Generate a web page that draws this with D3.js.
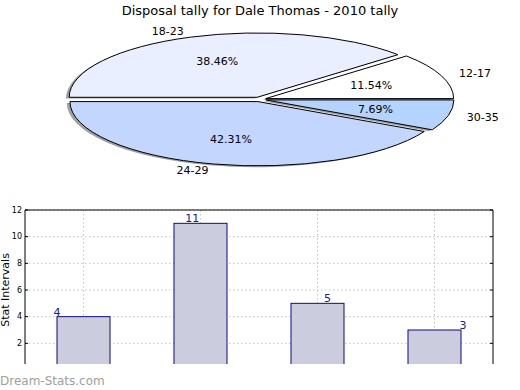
<!DOCTYPE html>
<meta charset="utf-8">
<style>
  body { margin: 0; background: #fff; }
  text { font-family: "DejaVu Sans", sans-serif; }
</style>
<svg width="520" height="390"></svg>
<script src="https://cdn.jsdelivr.net/npm/d3@7"></script>
<script>
// pie data
var pieLabels = ["12-17", "18-23", "24-29", "30-35"];
var pieValues = [3, 10, 11, 2];
var pieColors = ["#ffffff", "#e9effe", "#c3d6fe", "#b4d3fe"];

// bar data
var barCats = ["a", "b", "c", "d"];
var barValues = [4, 11, 5, 3];
var yTicks = [2, 4, 6, 8, 10, 12];

var svg = d3.select("svg");

svg.append("text")
    .attr("x", 260).attr("y", 15)
    .attr("text-anchor", "middle")
    .style("font-size", "13px")
    .text("Disposal tally for Dale Thomas - 2010 tally");

// ---- pie (squashed ellipse, counter-clockwise from east like matplotlib)
var cx = 259.5, cy = 99.4, rx = 188, ry = 64.3, explode = 0.035;
var total = d3.sum(pieValues);
var pie = d3.pie().sort(null).value(function(d) { return d; })
    .startAngle(Math.PI / 2).endAngle(Math.PI / 2 - 2 * Math.PI);
var arcs = pie(pieValues);
var arc = d3.arc().innerRadius(0).outerRadius(1);

// d3 angles: 0 = up, clockwise. convert to math angle
function mathAngle(a) { return Math.PI / 2 - a; }

var pg = svg.append("g");
function wedgeTransform(d, sx, sy) {
  var m = mathAngle((d.startAngle + d.endAngle) / 2);
  var ox = cx + explode * rx * Math.cos(m) + sx;
  var oy = cy - explode * ry * Math.sin(m) + sy;
  return "translate(" + ox + "," + oy + ") scale(" + rx + "," + ry + ")";
}
function swapArc(d) {
  return arc({startAngle: Math.min(d.startAngle, d.endAngle), endAngle: Math.max(d.startAngle, d.endAngle)});
}

pg.selectAll(".shadow").data(arcs).enter().append("path")
    .attr("class", "shadow")
    .attr("d", swapArc)
    .attr("transform", function(d) { return wedgeTransform(d, -3.2, 1.3); })
    .attr("fill", "#777").attr("opacity", 0.7);

pg.selectAll(".wedge").data(arcs).enter().append("path")
    .attr("class", "wedge")
    .attr("d", swapArc)
    .attr("transform", function(d) { return wedgeTransform(d, 0, 0); })
    .attr("fill", function(d, i) { return pieColors[i]; })
    .attr("stroke", "#000").attr("stroke-width", 1)
    .attr("vector-effect", "non-scaling-stroke");

arcs.forEach(function(d, i) {
  var m = mathAngle((d.startAngle + d.endAngle) / 2);
  var ex = cx + explode * rx * Math.cos(m), ey = cy - explode * ry * Math.sin(m);
  svg.append("text")
      .attr("x", ex + 1.1 * rx * Math.cos(m))
      .attr("y", ey - 1.1 * ry * Math.sin(m))
      .attr("dy", "0.35em")
      .attr("text-anchor", Math.cos(m) > 0 ? "start" : "end")
      .style("font-size", "11px")
      .text(pieLabels[i]);
  svg.append("text")
      .attr("x", ex + 0.6 * rx * Math.cos(m))
      .attr("y", ey - 0.6 * ry * Math.sin(m))
      .attr("dy", "0.35em")
      .attr("text-anchor", "middle")
      .style("font-size", "11px")
      .text((100 * pieValues[i] / total).toFixed(2) + "%");
});

// ---- bar chart
var plotLeft = 25, plotRight = 493, plotTop = 210, plotBottom = 370, clipBottom = 364;
var x = d3.scaleBand().domain(barCats).range([plotLeft, plotRight]).padding(0);
var y = d3.scaleLinear().domain([0, 12]).range([plotBottom, plotTop]);
var barW = x.bandwidth() * 0.453;

svg.append("clipPath").attr("id", "clip")
  .append("rect").attr("x", 0).attr("y", 0).attr("width", 520).attr("height", clipBottom);

var bg = svg.append("g").attr("clip-path", "url(#clip)");

// grid
bg.selectAll(".hg").data(yTicks).enter().append("line")
    .attr("x1", plotLeft).attr("x2", plotRight)
    .attr("y1", function(d) { return y(d); }).attr("y2", function(d) { return y(d); })
    .attr("stroke", "#c4c4c4").attr("stroke-dasharray", "1.5,2.5");
bg.selectAll(".vg").data(barCats).enter().append("line")
    .attr("x1", function(d) { return x(d) + x.bandwidth() / 2; })
    .attr("x2", function(d) { return x(d) + x.bandwidth() / 2; })
    .attr("y1", plotTop).attr("y2", plotBottom)
    .attr("stroke", "#c4c4c4").attr("stroke-dasharray", "1.5,2.5");

bg.selectAll(".bar").data(barValues).enter().append("rect")
    .attr("x", function(d, i) { return x(barCats[i]) + (x.bandwidth() - barW) / 2; })
    .attr("y", function(d) { return y(d); })
    .attr("width", barW)
    .attr("height", function(d) { return plotBottom - y(d); })
    .attr("fill", "#ccccdf").attr("stroke", "#0b0b8a").attr("stroke-width", 1);

// value labels (shifted further right for each bar, as in the source)
bg.selectAll(".vl").data(barValues).enter().append("text")
    .attr("x", function(d, i) { return x(barCats[i]) + (x.bandwidth() - barW) / 2 + i * 18.3; })
    .attr("y", function(d) { return y(d) - 1; })
    .attr("text-anchor", "middle")
    .attr("fill", "#1a1a8c")
    .style("font-size", "11px")
    .text(function(d) { return d; });

// spines
bg.append("path")
    .attr("d", "M" + plotLeft + "," + plotBottom + "V" + plotTop + "H" + plotRight + "V" + plotBottom)
    .attr("fill", "none").attr("stroke", "#000").attr("stroke-width", 1);

// ticks (inward, both sides)
bg.selectAll(".tl").data(yTicks).enter().append("line")
    .attr("x1", plotLeft).attr("x2", plotLeft + 3)
    .attr("y1", function(d) { return y(d); }).attr("y2", function(d) { return y(d); })
    .attr("stroke", "#000");
bg.selectAll(".tr").data(yTicks).enter().append("line")
    .attr("x1", plotRight - 3).attr("x2", plotRight)
    .attr("y1", function(d) { return y(d); }).attr("y2", function(d) { return y(d); })
    .attr("stroke", "#000");

svg.selectAll(".ytl").data(yTicks).enter().append("text")
    .attr("x", plotLeft - 3)
    .attr("y", function(d) { return y(d); })
    .attr("dy", "0.35em")
    .attr("text-anchor", "end")
    .style("font-size", "8px")
    .text(function(d) { return d; });

svg.append("text")
    .attr("transform", "translate(9,290) rotate(-90)")
    .attr("text-anchor", "middle")
    .style("font-size", "11px")
    .text("Stat Intervals");

svg.append("text")
    .attr("x", 0).attr("y", 385)
    .attr("fill", "#a0a0a0")
    .style("font-size", "12px")
    .text("Dream-Stats.com");
</script>
